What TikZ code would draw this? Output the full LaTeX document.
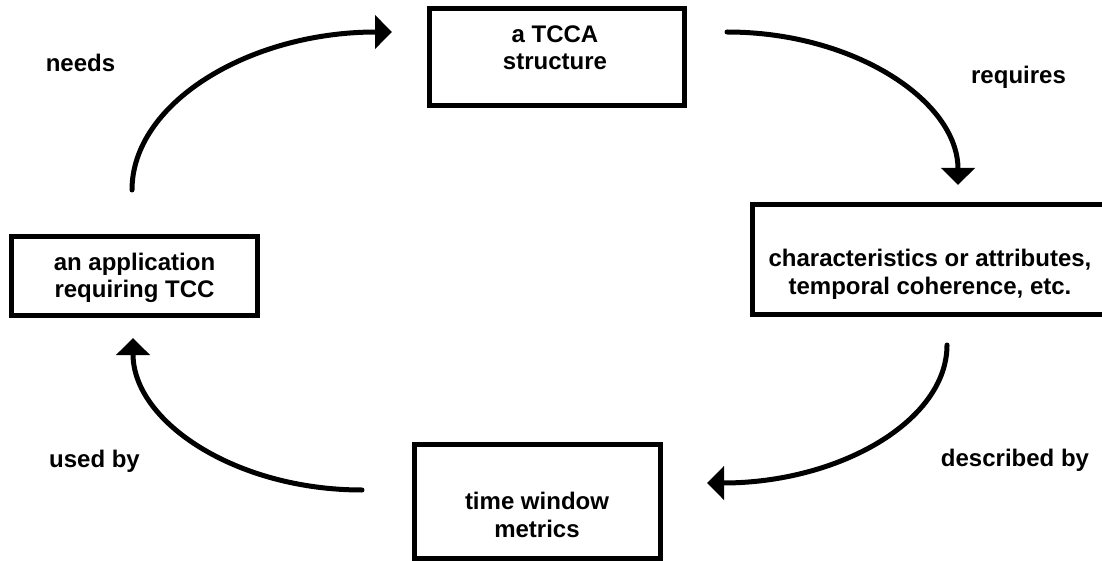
\documentclass[tikz,border=0pt]{standalone}
\usepackage{fontspec}
\setmainfont{Liberation Sans}
\usetikzlibrary{arrows.meta}
\begin{document}
\begin{tikzpicture}[x=1pt,y=-1pt,
  box/.style={draw=black, line width=5pt, rectangle, inner sep=0pt},
  txt/.style={font=\fontsize{24}{27.6}\selectfont\bfseries, align=center, inner sep=0pt},
  lbl/.style={font=\fontsize{24}{27.6}\selectfont\bfseries, inner sep=0pt, anchor=base},
  flow/.style={line width=5pt, line cap=round, -{Triangle[length=17pt,width=33pt]}}]
\clip (0,0) rectangle (1102,561);

% boxes
\node[box, minimum width=254.5pt, minimum height=97pt]   (tcca) at (556.75,57) {};
\node[box, minimum width=246.5pt, minimum height=78.5pt] (app)  at (134.25,276.25) {};
\node[box, minimum width=356pt,   minimum height=110pt]  (attr) at (930,259.5) {};
\node[box, minimum width=246pt,   minimum height=113.5pt](twm)  at (537.5,501.25) {};

% box texts
\node[txt] (tccatext) at (555,47.9)  {a TCCA\\structure};
\node[txt] (apptext)  at (134.5,277.8) {an application\\requiring TCC};
\node[txt] (attrtext) at (930,274.3) {characteristics or attributes,\\temporal coherence, etc.};
\node[txt] (twmtext)  at (537,514.9) {time window\\metrics};

% relation labels
\node[lbl] (needs)     at (80.5,72)   {needs};
\node[lbl] (requires)  at (1018.5,84) {requires};
\node[lbl] (described) at (1015,466)  {described by};
\node[lbl] (usedby)    at (94.5,467)  {used by};

% arc end points
\coordinate (n0) at (132,190);
\coordinate (n1) at (392,32);
\coordinate (r0) at (727,32);
\coordinate (r1) at (958,185);
\coordinate (d0) at (947,345);
\coordinate (d1) at (707,483);
\coordinate (u0) at (362,490);
\coordinate (u1) at (133,338);

% cycle of arcs
\draw[flow] (n0) .. controls (132,103) and (249,32) .. (n1);
\draw[flow] (r0) .. controls (854,32) and (958,101) .. (r1);
\draw[flow] (d0) .. controls (947,421) and (839,483) .. (d1);
\draw[flow] (u0) .. controls (236,490) and (133,422) .. (u1);
\end{tikzpicture}
\end{document}
